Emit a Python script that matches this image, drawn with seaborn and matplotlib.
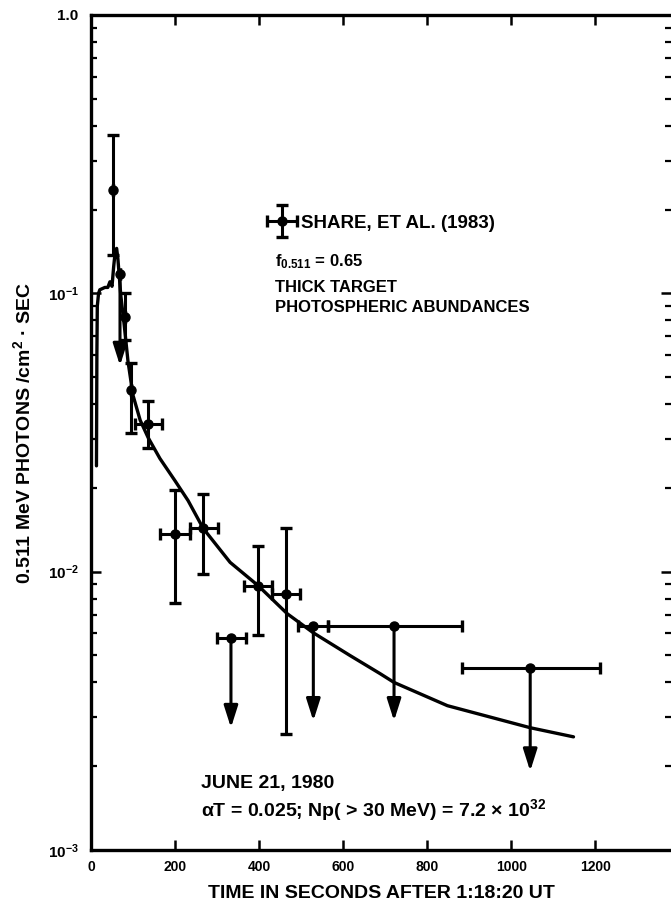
import numpy as np
import pandas as pd
import matplotlib
matplotlib.use("Agg")
import matplotlib.pyplot as plt
import seaborn as sns
from matplotlib.ticker import FixedLocator, FixedFormatter, LogLocator, NullFormatter
from matplotlib.container import ErrorbarContainer
from matplotlib.legend_handler import HandlerErrorbar

# ---------------- data ----------------
# model curve (time in s, photons / cm^2 s)
curve_t = [13, 14, 15, 18, 21, 33, 40, 45, 50, 54, 58, 61, 64, 71, 79, 88, 100, 117,
           136, 164, 200, 231, 267, 331, 398, 467, 529, 617, 688, 721, 848, 1045, 1148]
curve_v = [0.024, 0.06, 0.09, 0.100, 0.103, 0.105, 0.105, 0.110, 0.106, 0.125, 0.143,
           0.145, 0.133, 0.098, 0.077, 0.057, 0.043, 0.035, 0.0303, 0.0255, 0.0212,
           0.018, 0.0143, 0.0108, 0.0089, 0.00706, 0.00603, 0.00499, 0.0043, 0.0040,
           0.0033, 0.00275, 0.00255]

# detections (Share et al. 1983)
det_t = [52, 81, 95, 136, 200, 267, 397, 464]
det_v = [0.235, 0.082, 0.0448, 0.034, 0.0136, 0.0143, 0.0089, 0.0083]
det_vlo = [0.137, 0.068, 0.0316, 0.0279, 0.0077, 0.0098, 0.0059, 0.0026]
det_vhi = [0.37, 0.100, 0.056, 0.041, 0.0196, 0.019, 0.0124, 0.0143]
det_tlo = [52, 81, 95, 105, 164, 236, 364, 431]
det_thi = [52, 81, 95, 169, 236, 302, 431, 498]

# upper limits
ul_t = [69, 333, 529, 721, 1045]
ul_v = [0.117, 0.0058, 0.0064, 0.0064, 0.0045]
ul_tip = [0.055, 0.00275, 0.00291, 0.00291, 0.00192]
ul_tlo = [69, 300, 493, 564, 883]
ul_thi = [69, 369, 564, 883, 1212]

xticks = [0, 200, 400, 600, 800, 1000, 1200]
xticklabels = ["0", "200", "400", "600", "800", "1000", "1200"]
yticks = [1e-3, 1e-2, 1e-1, 1.0]
yticklabels = [r"$10^{-3}$", r"$10^{-2}$", r"$10^{-1}$", "1.0"]

# ---------------- style ----------------
sns.set_theme(style="ticks")
plt.rcParams["font.family"] = ["Liberation Sans", "DejaVu Sans"]
plt.rcParams["font.weight"] = "bold"
plt.rcParams["text.color"] = "black"
plt.rcParams["mathtext.fontset"] = "custom"
plt.rcParams["mathtext.rm"] = "Liberation Sans:bold"
plt.rcParams["mathtext.it"] = "Liberation Sans:bold:italic"
plt.rcParams["mathtext.bf"] = "Liberation Sans:bold"

W, H = 671, 913
fig = plt.figure(figsize=(W / 100, H / 100), dpi=100)
ax = fig.add_axes([91 / W, 1 - 850 / H, 580 / W, 835 / H])
ax.set_yscale("log")

df = pd.DataFrame({"t": curve_t, "v": curve_v})
sns.lineplot(data=df, x="t", y="v", ax=ax, color="black", lw=2.4,
             estimator=None, sort=False)

det_t_a = np.array(det_t); det_v_a = np.array(det_v)
cont = ax.errorbar(det_t, det_v,
                   yerr=[det_v_a - np.array(det_vlo), np.array(det_vhi) - det_v_a],
                   xerr=[det_t_a - np.array(det_tlo), np.array(det_thi) - det_t_a],
                   fmt="o", color="black", ms=6.5, elinewidth=2.2, capsize=4,
                   capthick=2.4, label="SHARE, ET AL. (1983)")

ul_t_a = np.array(ul_t)
ax.errorbar(ul_t, ul_v,
            xerr=[ul_t_a - np.array(ul_tlo), np.array(ul_thi) - ul_t_a],
            fmt="o", color="black", ms=6.5, elinewidth=2.2, capsize=4, capthick=2.4)
for t, v, tip in zip(ul_t, ul_v, ul_tip):
    ax.annotate("", xy=(t, tip), xytext=(t, v),
                arrowprops=dict(arrowstyle="-|>,head_length=1.1,head_width=0.35",
                                color="black", lw=2.2, shrinkA=0, shrinkB=0))

ax.set_xlim(0, 1380)
ax.set_ylim(1e-3, 1.0)
ax.set_xlabel("")
ax.set_ylabel("")

ax.xaxis.set_major_locator(FixedLocator(xticks))
ax.xaxis.set_major_formatter(FixedFormatter(xticklabels))
ax.yaxis.set_major_locator(FixedLocator(yticks))
ax.yaxis.set_major_formatter(FixedFormatter(yticklabels))
ax.yaxis.set_minor_locator(LogLocator(base=10, subs=np.arange(2, 10)))
ax.yaxis.set_minor_formatter(NullFormatter())

ax.tick_params(axis="both", which="major", direction="in", length=7, width=1.8,
               color="black", labelcolor="black", top=True, right=True)
ax.tick_params(axis="y", which="minor", direction="in", length=4.5, width=1.6,
               color="black", right=True)
ax.tick_params(axis="x", which="major", labelsize=10, pad=7)
ax.tick_params(axis="y", which="major", labelsize=11, pad=9)
for lab in ax.get_xticklabels() + ax.get_yticklabels():
    lab.set_fontweight("bold")

for s in ["left", "bottom", "top"]:
    ax.spines[s].set_linewidth(2.4)
    ax.spines[s].set_color("black")
ax.spines["right"].set_visible(False)

# legend (Share et al. marker)
ax.legend(handles=[cont], labels=["SHARE, ET AL. (1983)"], frameon=False,
          loc="center left", bbox_to_anchor=(267 / W, 1 - 223 / H),
          bbox_transform=fig.transFigure, fontsize=13.5, handlelength=1.6,
          handleheight=1.0, handletextpad=0.2, borderpad=0, borderaxespad=0,
          handler_map={ErrorbarContainer: HandlerErrorbar(xerr_size=0.8,
                                                          yerr_size=0.85)})

fs = 12
fig.text(275 / W, 1 - 262 / H, r"f$_{0.511}$ = 0.65", fontsize=fs, va="center")
fig.text(275 / W, 1 - 288 / H, "THICK TARGET", fontsize=fs, va="center")
fig.text(275 / W, 1 - 308 / H, "PHOTOSPHERIC ABUNDANCES", fontsize=fs, va="center")
fig.text(201 / W, 1 - 783 / H, "JUNE 21, 1980", fontsize=14, va="center")
fig.text(201 / W, 1 - 810 / H,
         "αT = 0.025; Np( > 30 MeV) = 7.2 × 10$^{32}$", fontsize=14, va="center")

fig.text(381 / W, 1 - 893 / H, "TIME IN SECONDS AFTER 1:18:20 UT", fontsize=14,
         ha="center", va="center")
fig.text(23 / W, 1 - 433 / H, "0.511 MeV PHOTONS /cm$^2$ · SEC", fontsize=14,
         ha="center", va="center", rotation=90)

fig.savefig("out.png", dpi=100)
